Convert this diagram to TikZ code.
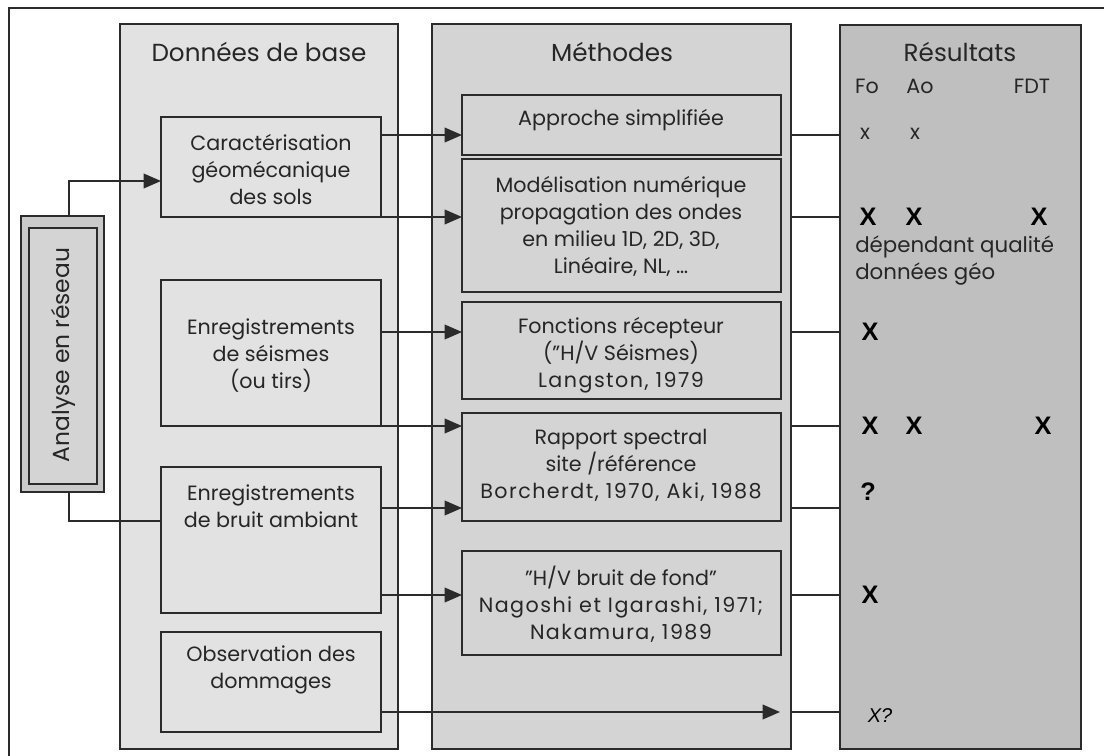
\documentclass[tikz,border=0pt]{standalone}
\usepackage{fontspec}
\setmainfont{Poppins}
\newfontfamily\numfont[Numbers=Monospaced, LetterSpace=7]{Poppins}
\newfontfamily\markfont{Liberation Sans}
\usetikzlibrary{arrows.meta,calc}
\definecolor{ink}{HTML}{2B2B2B}
\definecolor{colA}{HTML}{E2E2E2}
\definecolor{colB}{HTML}{D4D4D4}
\definecolor{colC}{HTML}{BFBFBF}
\definecolor{anaout}{HTML}{CACACA}
\begin{document}
\begin{tikzpicture}[x=0.75pt,y=-0.75pt,
  sz/.style 2 args={minimum width=#1*0.75pt, minimum height=#2*0.75pt},
  box/.style={draw=ink, line width=1.1pt, inner sep=0pt, outer sep=0pt, anchor=north west},
  txt/.style={align=center, inner sep=0pt, text=black!85, font=\fontsize{15.5}{20.25}\selectfont},
  hdr/.style={inner sep=0pt, text=black!85, font=\fontsize{18.5}{20}\selectfont},
  bigx/.style={inner sep=0pt, font=\markfont\bfseries\fontsize{19}{20}\selectfont},
  link/.style={draw=ink, line width=1.1pt},
  arr/.style={link, -{Triangle[length=13pt, width=11pt]}}
]
\useasboundingbox (0,0) rectangle (1104,756);
\fill[white] (0,0) rectangle (1104,756);
% outer frame
\draw[link] (9,760) -- (9,8) -- (1110,8);

% columns
\node[box, fill=colA, sz={278}{725}] (base) at (120,24) {};
\node[box, fill=colB, sz={359}{725}] (meth) at (432,24) {};
\node[box, fill=colC, sz={241}{724}] (res) at (840,25) {};
\node[hdr] (baseT) at (259,52) {Données de base};
\node[hdr] (methT) at (612,52) {Méthodes};
\node[hdr] (resT) at (960,52) {Résultats};

% network analysis block
\node[box, fill=anaout, sz={83}{276}] (ana) at (21,216) {};
\node[box, fill=colB, sz={68}{256}] (anaIn) at (29,228) {};
\node[txt, rotate=90, font=\fontsize{17.5}{20}\selectfont] (anaT) at (63,355) {Analyse en réseau};

% input data
\node[box, fill=colA, sz={220}{100}] (carac) at (161,117) {};
\node[box, fill=colA, sz={220}{146}] (seis) at (161,280) {};
\node[box, fill=colA, sz={220}{146}] (bruit) at (161,467) {};
\node[box, fill=colA, sz={220}{100}] (obs) at (161,632) {};
\node[txt] (caracT) at (271,170) {Caractérisation\\géomécanique\\des sols};
\node[txt] (seisT) at (271,356) {Enregistrements\\de séismes\\(ou tirs)};
\node[txt] (bruitT) at (271,506) {Enregistrements\\de bruit ambiant};
\node[txt] (obsT) at (271,670) {Observation des\\dommages};

% methods
\node[box, fill=colB, sz={319}{60}] (appr) at (462,95) {};
\node[box, fill=colB, sz={319}{133}] (model) at (462,159) {};
\node[box, fill=colB, sz={319}{97}] (fonc) at (462,302) {};
\node[box, fill=colB, sz={319}{108}] (rapp) at (462,413) {};
\node[box, fill=colB, sz={319}{104}] (hv) at (462,551) {};
\node[txt] (apprT) at (621,120) {Approche simplifiée};
\node[txt] (modelT) at (621,226) {Modélisation numérique\\propagation des ondes\\en milieu 1D, 2D, 3D,\\Linéaire, NL, …};
\node[txt] (foncT) at (621,355) {Fonctions récepteur\\("H/V Séismes)\\{\numfont Langston, 1979}};
\node[txt] (rappT) at (621,465) {Rapport spectral\\site /référence\\{\numfont Borcherdt, 1970, Aki, 1988}};
\node[txt] (hvT) at (621,604) {"H/V bruit de fond"\\{\numfont Nagoshi et Igarashi, 1971;}\\{\numfont Nakamura, 1989}};

% results
\node[txt] (fo) at (867,86) {Fo};
\node[txt] (ao) at (920,86) {Ao};
\node[txt] (fdt) at (1032,86) {FDT};
\node[txt] (r1a) at (865,134) {x};
\node[txt] (r1b) at (915,134) {x};
\node[bigx] (r2a) at (868,217) {X};
\node[bigx] (r2b) at (914,217) {X};
\node[bigx] (r2c) at (1039,217) {X};
\node[txt, align=left, anchor=west, font=\fontsize{16}{20.25}\selectfont] (qual) at (855,261) {dépendant qualité\\données géo};
\node[bigx] (r3a) at (870,332) {X};
\node[bigx] (r4a) at (870,426) {X};
\node[bigx] (r4b) at (914,426) {X};
\node[bigx] (r4c) at (1043,426) {X};
\node[bigx] (r5a) at (868,492) {?};
\node[bigx] (r6a) at (870,595) {X};
\node[inner sep=0pt, font=\markfont\itshape\fontsize{15}{16}\selectfont] (r7a) at (880,716) {X?};

% connectors
\draw[arr] ($(ana.north)+(6.5,0)$) |- ($(carac.west)+(0,14)$);
\draw[link] ($(ana.south)+(6.5,0)$) |- ($(bruit.west)+(0,-19)$);

\coordinate (y1) at ($(carac.east)+(0,-32)$);
\coordinate (y2) at (carac.south east);
\coordinate (y3) at ($(seis.east)+(0,-21)$);
\coordinate (y4) at (seis.south east);
\coordinate (y5) at ($(bruit.east)+(0,-32)$);
\coordinate (y6) at ($(bruit.east)+(0,55)$);
\coordinate (y7) at ($(obs.east)+(0,30)$);
\coordinate (obsEnd) at (780,712);

\draw[arr] (y1) -- (y1 -| appr.west);
\draw[arr] (y2) -- (y2 -| model.west);
\draw[arr] (y3) -- (y3 -| fonc.west);
\draw[arr] (y4) -- (y4 -| rapp.west);
\draw[arr] (y5) -- (y5 -| rapp.west);
\draw[arr] (y6) -- (y6 -| hv.west);
\draw[arr] (y7) -- (obsEnd);

\foreach \c in {y1,y2,y3,y4,y5,y6,y7}
  \draw[link] (\c -| meth.east) -- (\c -| res.west);
\end{tikzpicture}
\end{document}
